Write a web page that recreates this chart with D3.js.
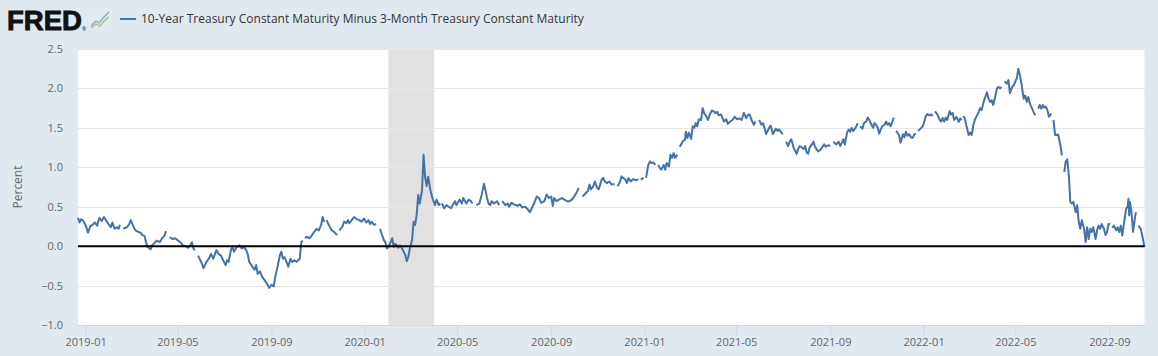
<!DOCTYPE html>
<html><head><meta charset="utf-8">
<script src="https://cdn.jsdelivr.net/npm/d3@7"></script>
<style>
html,body{margin:0;padding:0;background:#e1e9f0;}
svg{display:block;font-family:"Open Sans",sans-serif;}
</style></head><body>
<svg id="chart" width="1158" height="356"></svg>
<script>
// ---------------- DATA ----------------
const seriesName = "10-Year Treasury Constant Maturity Minus 3-Month Treasury Constant Maturity";
const yAxisTitle = "Percent";
const yTickValues = [-1.0, -0.5, 0.0, 0.5, 1.0, 1.5, 2.0, 2.5];
const xTickLabels = ["2019-01","2019-05","2019-09","2020-01","2020-05","2020-09","2021-01","2021-05","2021-09","2022-01","2022-05","2022-09"];
const xDomain = ["2018-12-22", "2022-10-17"];
const recession = ["2020-02-01", "2020-04-01"];

// [date, percent] ; null = no observation (line break)
const obs2019 = [
["2018-12-22",0.36],["2018-12-24",0.30],["2018-12-26",0.34],["2018-12-29",0.32],
["2019-01-02",0.24],["2019-01-04",0.17],["2019-01-07",0.25],["2019-01-10",0.27],["2019-01-13",0.30],["2019-01-16",0.26],["2019-01-19",0.36],["2019-01-22",0.32],["2019-01-25",0.37],["2019-01-28",0.32],["2019-01-31",0.28],
["2019-02-03",0.24],["2019-02-05",0.30],["2019-02-08",0.22],["2019-02-11",0.24],["2019-02-13",0.22],["2019-02-15",0.27],["2019-02-18",null],["2019-02-19",0.22],["2019-02-24",0.24],["2019-02-27",0.28],
["2019-03-01",0.33],["2019-03-04",0.26],["2019-03-07",0.20],["2019-03-11",0.18],["2019-03-14",0.17],["2019-03-16",0.14],["2019-03-19",0.13],["2019-03-21",0.05],["2019-03-23",-0.01],["2019-03-27",-0.04],["2019-03-29",0.01],
["2019-04-02",0.05],["2019-04-04",0.07],["2019-04-08",0.05],["2019-04-11",0.10],["2019-04-14",0.13],["2019-04-16",0.19],["2019-04-19",null],["2019-04-21",0.11],["2019-04-25",0.09],["2019-04-28",0.10],
["2019-05-02",0.07],["2019-05-05",0.05],["2019-05-08",0.01],["2019-05-12",0.00],["2019-05-15",-0.02],["2019-05-18",0.01],["2019-05-20",0.05],["2019-05-22",-0.03],["2019-05-24",-0.05],["2019-05-27",null],["2019-05-28",-0.12],
["2019-06-02",-0.22],["2019-06-04",-0.28],["2019-06-08",-0.20],["2019-06-11",-0.16],["2019-06-14",-0.10],["2019-06-17",-0.16],["2019-06-21",-0.05],["2019-06-24",-0.10],["2019-06-27",-0.12],["2019-06-30",-0.18],
["2019-07-03",-0.24],["2019-07-05",-0.18],["2019-07-07",-0.20],["2019-07-10",-0.05],["2019-07-12",0.00],["2019-07-14",-0.07],["2019-07-17",-0.02],["2019-07-21",0.01],["2019-07-24",-0.03],["2019-07-27",-0.01],["2019-07-30",-0.05],
["2019-08-01",-0.10],["2019-08-03",-0.20],["2019-08-07",-0.26],["2019-08-10",-0.30],["2019-08-12",-0.24],["2019-08-14",-0.35],["2019-08-17",-0.32],["2019-08-20",-0.39],["2019-08-23",-0.43],["2019-08-26",-0.47],["2019-08-29",-0.53],
["2019-09-01",-0.49],["2019-09-04",-0.51],["2019-09-06",-0.39],["2019-09-09",-0.26],["2019-09-12",-0.12],["2019-09-14",-0.07],["2019-09-16",-0.16],["2019-09-18",-0.14],["2019-09-20",-0.18],["2019-09-23",-0.26],["2019-09-26",-0.16],["2019-09-28",-0.20],
["2019-10-01",-0.18],["2019-10-04",-0.20],["2019-10-08",-0.16],["2019-10-10",0.05],["2019-10-12",0.07],["2019-10-14",null],["2019-10-15",0.10],["2019-10-17",0.12],["2019-10-21",0.10],["2019-10-24",0.14],["2019-10-27",0.18],["2019-10-30",0.22],
["2019-11-02",0.20],["2019-11-05",0.27],["2019-11-07",0.37],["2019-11-09",0.31],["2019-11-11",null],["2019-11-12",0.33],["2019-11-16",0.25],["2019-11-19",0.20],["2019-11-22",0.18],["2019-11-26",0.14],["2019-11-28",null],["2019-11-29",0.20],
["2019-12-03",0.25],["2019-12-05",0.31],["2019-12-08",0.29],["2019-12-10",0.33],["2019-12-12",0.29],["2019-12-15",0.33],["2019-12-18",0.37],["2019-12-22",0.34],["2019-12-25",0.33],["2019-12-28",0.31],["2019-12-31",0.35]
];

const obs2020 = [
["2020-01-03",0.30],["2020-01-06",0.33],["2020-01-08",0.28],["2020-01-10",0.31],["2020-01-13",0.27],["2020-01-16",0.28],["2020-01-20",null],["2020-01-21",0.22],["2020-01-23",0.16],["2020-01-26",0.08],["2020-01-28",0.05],["2020-01-30",-0.03],
["2020-02-01",-0.01],["2020-02-03",0.03],["2020-02-06",0.10],["2020-02-08",-0.01],["2020-02-10",0.03],["2020-02-12",0.01],["2020-02-14",-0.02],["2020-02-16",0.01],["2020-02-19",-0.03],["2020-02-21",-0.07],["2020-02-23",-0.11],["2020-02-25",-0.19],["2020-02-27",-0.14],["2020-02-29",-0.03],
["2020-03-03",0.08],["2020-03-05",0.31],["2020-03-07",0.27],["2020-03-09",0.40],["2020-03-11",0.65],["2020-03-13",0.54],["2020-03-16",0.71],["2020-03-18",1.16],["2020-03-20",0.88],["2020-03-22",0.76],["2020-03-24",0.88],["2020-03-27",0.71],["2020-03-29",0.63],["2020-03-31",0.57],
["2020-04-02",0.52],["2020-04-04",0.59],["2020-04-07",0.52],["2020-04-09",0.54],["2020-04-10",null],["2020-04-11",0.54],["2020-04-14",0.48],["2020-04-17",0.52],["2020-04-20",0.50],["2020-04-23",0.48],["2020-04-25",0.52],["2020-04-28",0.57],["2020-04-30",0.52],
["2020-05-04",0.59],["2020-05-07",0.54],["2020-05-09",0.61],["2020-05-13",0.54],["2020-05-16",0.59],["2020-05-19",0.57],["2020-05-21",0.54],["2020-05-25",null],["2020-05-26",0.52],["2020-05-30",0.54],
["2020-06-02",0.65],["2020-06-05",0.79],["2020-06-07",0.71],["2020-06-09",0.61],["2020-06-11",0.54],["2020-06-13",0.52],["2020-06-15",0.57],["2020-06-18",0.54],["2020-06-22",0.57],["2020-06-25",0.52],["2020-06-28",null],["2020-06-29",0.57],
["2020-07-03",0.52],["2020-07-06",0.54],["2020-07-08",0.50],["2020-07-11",0.55],["2020-07-14",0.53],["2020-07-17",0.52],["2020-07-19",0.51],["2020-07-22",0.53],["2020-07-25",0.49],["2020-07-29",0.50],
["2020-08-01",0.47],["2020-08-04",0.43],["2020-08-07",0.49],["2020-08-10",0.55],["2020-08-13",0.63],["2020-08-16",0.61],["2020-08-19",0.55],["2020-08-23",0.57],["2020-08-26",0.655],["2020-08-29",0.61],
["2020-09-01",0.63],["2020-09-03",0.51],["2020-09-05",0.61],["2020-09-08",0.57],["2020-09-11",0.59],["2020-09-15",0.61],["2020-09-18",0.59],["2020-09-22",0.57],["2020-09-25",0.57],["2020-09-28",0.59],
["2020-10-01",0.63],["2020-10-04",0.675],["2020-10-07",0.74],["2020-10-10",null],["2020-10-12",0.63],["2020-10-16",0.67],["2020-10-19",0.70],["2020-10-21",0.78],["2020-10-23",0.72],["2020-10-26",0.76],["2020-10-28",0.82],["2020-10-31",0.74],
["2020-11-02",0.72],["2020-11-04",0.78],["2020-11-06",0.845],["2020-11-08",0.865],["2020-11-10",0.82],["2020-11-13",0.80],["2020-11-16",0.82],["2020-11-19",0.78],["2020-11-23",0.79],["2020-11-26",null],["2020-11-27",0.76],["2020-11-30",0.82],
["2020-12-02",0.885],["2020-12-04",0.865],["2020-12-07",0.845],["2020-12-09",0.80],["2020-12-11",0.865],["2020-12-14",0.82],["2020-12-17",0.85],["2020-12-21",0.835],["2020-12-24",0.85],["2020-12-25",null],["2020-12-27",0.845],["2020-12-31",0.865]
];

const obs2021 = [
["2021-01-01",null],["2021-01-03",0.865],["2021-01-06",1.03],["2021-01-08",1.075],["2021-01-10",1.055],["2021-01-13",1.06],["2021-01-15",1.03],["2021-01-18",null],["2021-01-19",1.03],["2021-01-21",0.99],["2021-01-23",0.97],["2021-01-26",1.03],["2021-01-28",0.97],["2021-01-30",1.055],
["2021-02-02",1.01],["2021-02-04",1.16],["2021-02-06",1.12],["2021-02-08",1.18],["2021-02-10",1.12],["2021-02-13",1.16],["2021-02-15",null],["2021-02-16",1.26],["2021-02-18",1.29],["2021-02-20",1.33],["2021-02-23",1.35],["2021-02-24",1.45],["2021-02-26",1.37],["2021-02-28",1.44],
["2021-03-03",1.36],["2021-03-05",1.52],["2021-03-07",1.50],["2021-03-09",1.56],["2021-03-11",1.52],["2021-03-13",1.61],["2021-03-16",1.60],["2021-03-18",1.75],["2021-03-20",1.685],["2021-03-22",1.66],["2021-03-25",1.60],["2021-03-27",1.66],["2021-03-30",1.72],
["2021-04-02",1.705],["2021-04-04",1.685],["2021-04-06",1.705],["2021-04-08",1.66],["2021-04-11",1.67],["2021-04-15",1.58],["2021-04-18",1.61],["2021-04-20",1.55],["2021-04-23",1.58],["2021-04-26",1.60],["2021-04-29",1.64],
["2021-05-02",1.61],["2021-05-05",1.62],["2021-05-08",1.60],["2021-05-11",1.69],["2021-05-14",1.625],["2021-05-17",1.67],["2021-05-19",1.66],["2021-05-21",1.60],["2021-05-24",1.54],["2021-05-26",1.58],["2021-05-28",null],
["2021-05-31",1.60],["2021-06-03",1.54],["2021-06-05",1.56],["2021-06-07",1.50],["2021-06-09",1.42],["2021-06-11",1.46],["2021-06-13",1.50],["2021-06-15",1.53],["2021-06-18",1.42],["2021-06-20",1.46],["2021-06-22",1.49],["2021-06-24",1.46],["2021-06-26",1.48],["2021-06-29",1.44],
["2021-07-01",1.42],["2021-07-04",null],["2021-07-05",1.325],["2021-07-08",1.27],["2021-07-10",1.325],["2021-07-12",1.355],["2021-07-15",1.25],["2021-07-17",1.21],["2021-07-19",1.17],["2021-07-21",1.23],["2021-07-23",1.27],["2021-07-26",1.25],["2021-07-28",1.23],["2021-07-30",1.27],
["2021-08-01",1.19],["2021-08-03",1.17],["2021-08-05",1.25],["2021-08-08",1.29],["2021-08-10",1.325],["2021-08-12",1.26],["2021-08-14",1.23],["2021-08-16",1.20],["2021-08-19",1.22],["2021-08-21",1.25],["2021-08-24",1.29],["2021-08-26",1.26],["2021-08-29",1.28],
["2021-09-01",1.27],["2021-09-04",null],["2021-09-05",1.325],["2021-09-09",1.29],["2021-09-12",1.325],["2021-09-14",1.27],["2021-09-16",1.31],["2021-09-18",1.355],["2021-09-20",1.29],["2021-09-23",1.44],["2021-09-25",1.48],["2021-09-27",1.45],["2021-09-29",1.50],
["2021-10-01",1.46],["2021-10-04",1.50],["2021-10-07",1.56],["2021-10-09",null],["2021-10-10",1.52],["2021-10-13",1.49],["2021-10-15",1.56],["2021-10-18",1.58],["2021-10-20",1.63],["2021-10-22",1.60],["2021-10-25",1.54],["2021-10-27",1.50],["2021-10-29",1.56],["2021-10-31",1.54],
["2021-11-02",1.50],["2021-11-04",1.425],["2021-11-06",1.48],["2021-11-08",1.52],["2021-11-11",1.54],["2021-11-13",1.58],["2021-11-15",1.54],["2021-11-17",1.56],["2021-11-19",1.52],["2021-11-22",1.60],["2021-11-23",1.63],["2021-11-25",null],["2021-11-26",1.46],["2021-11-28",1.44],["2021-11-30",1.40],
["2021-12-02",1.31],["2021-12-05",1.42],["2021-12-07",1.38],["2021-12-09",1.45],["2021-12-11",1.40],["2021-12-13",1.42],["2021-12-16",1.375],["2021-12-18",1.375],["2021-12-20",1.42],["2021-12-22",1.425],["2021-12-24",null],["2021-12-25",1.46],["2021-12-29",1.50],["2021-12-31",1.52]
];

const obs2022 = [
["2022-01-02",1.58],["2022-01-04",1.65],["2022-01-06",1.675],["2022-01-08",1.66],["2022-01-11",1.67],["2022-01-13",1.65],["2022-01-15",null],["2022-01-16",1.71],["2022-01-19",1.67],["2022-01-22",1.60],["2022-01-24",1.58],["2022-01-26",1.625],["2022-01-28",1.58],["2022-01-30",1.63],
["2022-02-01",1.60],["2022-02-04",1.71],["2022-02-06",1.67],["2022-02-08",1.69],["2022-02-10",1.60],["2022-02-13",1.64],["2022-02-16",1.575],["2022-02-18",1.62],["2022-02-20",1.60],["2022-02-21",null],["2022-02-22",1.65],["2022-02-24",1.62],["2022-02-26",1.53],
["2022-03-01",1.41],["2022-03-03",1.44],["2022-03-05",1.41],["2022-03-07",1.53],["2022-03-09",1.60],["2022-03-11",1.64],["2022-03-14",1.70],["2022-03-16",1.75],["2022-03-18",1.725],["2022-03-20",1.81],["2022-03-22",1.87],["2022-03-25",1.95],["2022-03-27",1.87],["2022-03-29",1.83],["2022-03-31",1.85],
["2022-04-02",1.79],["2022-04-04",1.87],["2022-04-07",2.00],["2022-04-09",2.02],["2022-04-11",2.00],["2022-04-13",2.02],["2022-04-15",null],["2022-04-17",2.09],["2022-04-20",2.06],["2022-04-22",2.105],["2022-04-24",1.94],["2022-04-27",2.02],["2022-04-29",2.04],
["2022-05-01",2.085],["2022-05-03",2.13],["2022-05-05",2.25],["2022-05-07",2.17],["2022-05-09",2.06],["2022-05-12",1.87],["2022-05-14",1.91],["2022-05-16",1.83],["2022-05-18",1.89],["2022-05-20",1.81],["2022-05-23",1.745],["2022-05-25",1.70],["2022-05-27",1.66],["2022-05-30",null],["2022-05-31",1.745],
["2022-06-02",1.79],["2022-06-04",1.745],["2022-06-06",1.79],["2022-06-08",1.755],["2022-06-10",1.77],["2022-06-12",1.725],["2022-06-14",1.64],["2022-06-17",1.68],["2022-06-19",null],["2022-06-20",1.60],["2022-06-22",1.41],["2022-06-24",1.41],["2022-06-26",1.415],["2022-06-29",1.28],
["2022-07-01",1.15],["2022-07-03",null],["2022-07-04",0.94],["2022-07-06",1.075],["2022-07-08",1.10],["2022-07-10",0.90],["2022-07-12",0.56],["2022-07-14",0.54],["2022-07-16",0.56],["2022-07-19",0.43],["2022-07-21",0.52],["2022-07-23",0.305],["2022-07-25",0.22],["2022-07-27",0.33],["2022-07-30",0.22],
["2022-08-01",0.05],["2022-08-03",0.24],["2022-08-05",0.09],["2022-08-07",0.22],["2022-08-09",0.18],["2022-08-11",0.24],["2022-08-14",0.09],["2022-08-16",0.20],["2022-08-18",0.26],["2022-08-20",0.22],["2022-08-22",0.28],["2022-08-25",0.22],["2022-08-27",0.14],["2022-08-29",0.18],["2022-08-31",0.28],
["2022-09-02",0.28],["2022-09-04",null],["2022-09-05",0.23],["2022-09-07",0.26],["2022-09-10",0.20],["2022-09-12",0.24],["2022-09-14",0.18],["2022-09-16",0.26],["2022-09-18",0.135],["2022-09-20",0.28],["2022-09-23",0.475],["2022-09-25",0.50],["2022-09-26",0.60],["2022-09-27",0.39],["2022-09-28",0.56],["2022-09-30",0.43],
["2022-10-02",0.18],["2022-10-05",0.39],["2022-10-06",0.43],["2022-10-08",null],["2022-10-09",0.26],["2022-10-12",0.22],["2022-10-14",0.135],["2022-10-17",-0.01]
];

// ---------------- CHART ----------------
const parse = d3.timeParse("%Y-%m-%d");
const parseMonth = d3.timeParse("%Y-%m");
const data = [].concat(obs2019, obs2020, obs2021, obs2022).map(([d, v]) => ({date: parse(d), value: v}));

const plot = {left: 78, right: 1144.5, top: 49, bottom: 325};

const svg = d3.select("#chart");

const x = d3.scaleTime().domain(xDomain.map(parse)).range([plot.left, plot.right]);
const y = d3.scaleLinear().domain([d3.min(yTickValues), d3.max(yTickValues)]).range([plot.bottom, plot.top]);

// plot background
svg.append("rect").attr("x", plot.left).attr("y", plot.top)
  .attr("width", plot.right - plot.left).attr("height", plot.bottom - plot.top)
  .attr("fill", "#ffffff");

// recession band
svg.append("rect")
  .attr("x", x(parse(recession[0]))).attr("y", plot.top)
  .attr("width", x(parse(recession[1])) - x(parse(recession[0])))
  .attr("height", plot.bottom - plot.top)
  .attr("fill", "#e1e1e1");

// gridlines
svg.append("g").selectAll("line").data(yTickValues).join("line")
  .attr("x1", plot.left).attr("x2", plot.right)
  .attr("y1", d => Math.round(y(d)) + 0.5).attr("y2", d => Math.round(y(d)) + 0.5)
  .attr("stroke", "#e6e6e6").attr("stroke-width", 1);

// y axis labels
const yAxis = d3.axisLeft(y).tickValues(yTickValues).tickFormat(d3.format(".1f")).tickSize(0).tickPadding(15);
const gy = svg.append("g").attr("transform", `translate(${plot.left},0)`).call(yAxis);
gy.select(".domain").remove();
gy.selectAll("text").attr("fill", "#666666").style("font-size", "11px").style("font-family", "'Open Sans', sans-serif");

// x axis
const xAxis = d3.axisBottom(x).tickValues(xTickLabels.map(parseMonth))
  .tickFormat(d3.timeFormat("%Y-%m")).tickSize(10).tickPadding(3).tickSizeOuter(0);
const gx = svg.append("g").attr("transform", `translate(0,${plot.bottom})`).call(xAxis);
gx.select(".domain").attr("stroke", "#ccd6eb");
gx.selectAll(".tick line").attr("stroke", "#ccd6eb");
gx.selectAll("text").attr("fill", "#666666").style("font-size", "11px").style("font-family", "'Open Sans', sans-serif");

// y axis title
svg.append("text")
  .attr("transform", `translate(22,${(plot.top + plot.bottom) / 2}) rotate(-90)`)
  .attr("text-anchor", "middle")
  .attr("fill", "#666666")
  .style("font-size", "12px")
  .text(yAxisTitle);

// series line
const line = d3.line()
  .defined(d => d.value !== null)
  .x(d => x(d.date)).y(d => y(d.value));
svg.append("path").datum(data)
  .attr("d", line)
  .attr("fill", "none")
  .attr("stroke", "#4572a7")
  .attr("stroke-width", 2)
  .attr("stroke-linejoin", "round");

// zero line
svg.append("line")
  .attr("x1", plot.left).attr("x2", plot.right)
  .attr("y1", y(0)).attr("y2", y(0))
  .attr("stroke", "#000000").attr("stroke-width", 2);

// ---- header: logo + legend ----
const header = svg.append("g");
header.append("text")
  .attr("x", 7).attr("y", 30)
  .attr("textLength", 75).attr("lengthAdjust", "spacingAndGlyphs")
  .style("font-family", "'Liberation Sans', Arial, sans-serif")
  .style("font-weight", "bold").style("font-size", "28px")
  .attr("fill", "#111111").attr("stroke", "#111111").attr("stroke-width", 0.9)
  .text("FRED");
header.append("text")
  .attr("x", 82).attr("y", 31)
  .style("font-size", "5px").attr("fill", "#111111")
  .text("®");
// small chart icon
const icon = header.append("g").attr("transform", "translate(89,9)");
icon.append("rect").attr("width", 22).attr("height", 21).attr("rx", 2).attr("fill", "#e4e9ee");
icon.append("polyline").attr("points", "2,17 7,12 10,14 15,8 20,3")
  .attr("fill", "none").attr("stroke", "#7fa7d6").attr("stroke-width", 1.3);
icon.append("polyline").attr("points", "2,19 7,15 11,17 15,12 20,8")
  .attr("fill", "none").attr("stroke", "#9bc46a").attr("stroke-width", 1.3);

header.append("line").attr("x1", 120).attr("x2", 136).attr("y1", 19).attr("y2", 19)
  .attr("stroke", "#4572a7").attr("stroke-width", 2);
header.append("text")
  .attr("x", 141).attr("y", 23)
  .attr("fill", "#333333").style("font-size", "12px")
  .text(seriesName);
</script>
</body></html>
